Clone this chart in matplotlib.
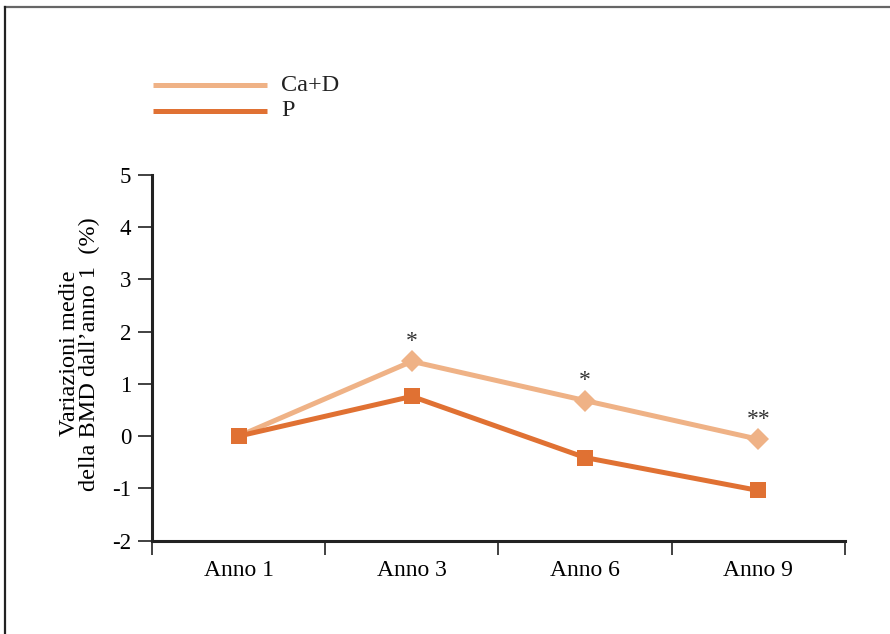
import matplotlib
matplotlib.use("Agg")
import matplotlib.pyplot as plt
from matplotlib.lines import Line2D

categories = ["Anno 1", "Anno 3", "Anno 6", "Anno 9"]
ca_d = [0.0, 1.43, 0.68, -0.06]
placebo = [0.0, 0.76, -0.41, -1.04]
stars = ["", "*", "*", "**"]
series_names = ["Ca+D", "P"]
y_ticks = [-2, -1, 0, 1, 2, 3, 4, 5]

c_light = "#EFB286"
c_dark = "#E07133"

plt.rcParams['font.family'] = ['Liberation Serif', 'DejaVu Serif']

fig = plt.figure(figsize=(8.9, 6.34), dpi=100)
ax = fig.add_axes([0.1708, 0.1472, 0.9494 - 0.1708, 0.7244 - 0.1472])

xs = [i + 0.5 for i in range(len(categories))]
ax.plot(xs, ca_d, color=c_light, lw=3.6, marker='D', markersize=11.2,
        markeredgewidth=0, markevery=[1, 2, 3], zorder=3)
ax.plot(xs, placebo, color=c_dark, lw=3.6, marker='s', markersize=12.2,
        markeredgewidth=0, zorder=4)

for x, y, s in zip(xs, ca_d, stars):
    if s:
        ax.annotate(s, (x, y), xytext=(0, 7), textcoords='offset points',
                    ha='center', va='bottom', fontsize=17, color='#333333')

ax.set_xlim(0, len(categories))
ax.set_ylim(-2, 5)
ax.set_yticks(y_ticks)
ax.set_yticklabels([str(v) for v in y_ticks], fontsize=16.5)
ax.set_xticks(range(len(categories) + 1))
ax.set_xticklabels([])
ax.set_xticks(xs, minor=True)
ax.set_xticklabels(categories, minor=True, fontsize=17)
ax.tick_params(axis='x', which='minor', length=0, pad=14)
ax.tick_params(axis='x', which='major', length=10, width=1.3, color='#333333', direction='out')
ax.tick_params(axis='y', length=10, width=1.3, color='#333333', direction='out', pad=5)

for side in ['top', 'right']:
    ax.spines[side].set_visible(False)
for side in ['left', 'bottom']:
    ax.spines[side].set_linewidth(2.2)
    ax.spines[side].set_color('#222222')

ax.set_ylabel("Variazioni medie\ndella BMD dall\u2019anno 1  (%)", fontsize=17.5,
              linespacing=0.95)
ax.yaxis.set_label_coords(-0.075, 0.511)

# legend drawn in figure coordinates
W, H = 890, 634
for name, col, yy in zip(series_names, [c_light, c_dark], [85.3, 110.7]):
    fig.add_artist(Line2D([152.7 / W, 267 / W], [1 - yy / H, 1 - yy / H],
                          color=col, lw=3.6, solid_capstyle='butt'))
    fig.text(281 / W, 1 - yy / H, name, fontsize=17.5, va='center', ha='left', color='#222222')

# frame lines (top and left)
fig.add_artist(Line2D([5 / W, 1.0], [1 - 7.3 / H, 1 - 7.3 / H], color='#666666', lw=1.6))
fig.add_artist(Line2D([5 / W, 5 / W], [0, 1 - 7.3 / H], color='#222222', lw=1.6))

fig.savefig("out.png", dpi=100)
